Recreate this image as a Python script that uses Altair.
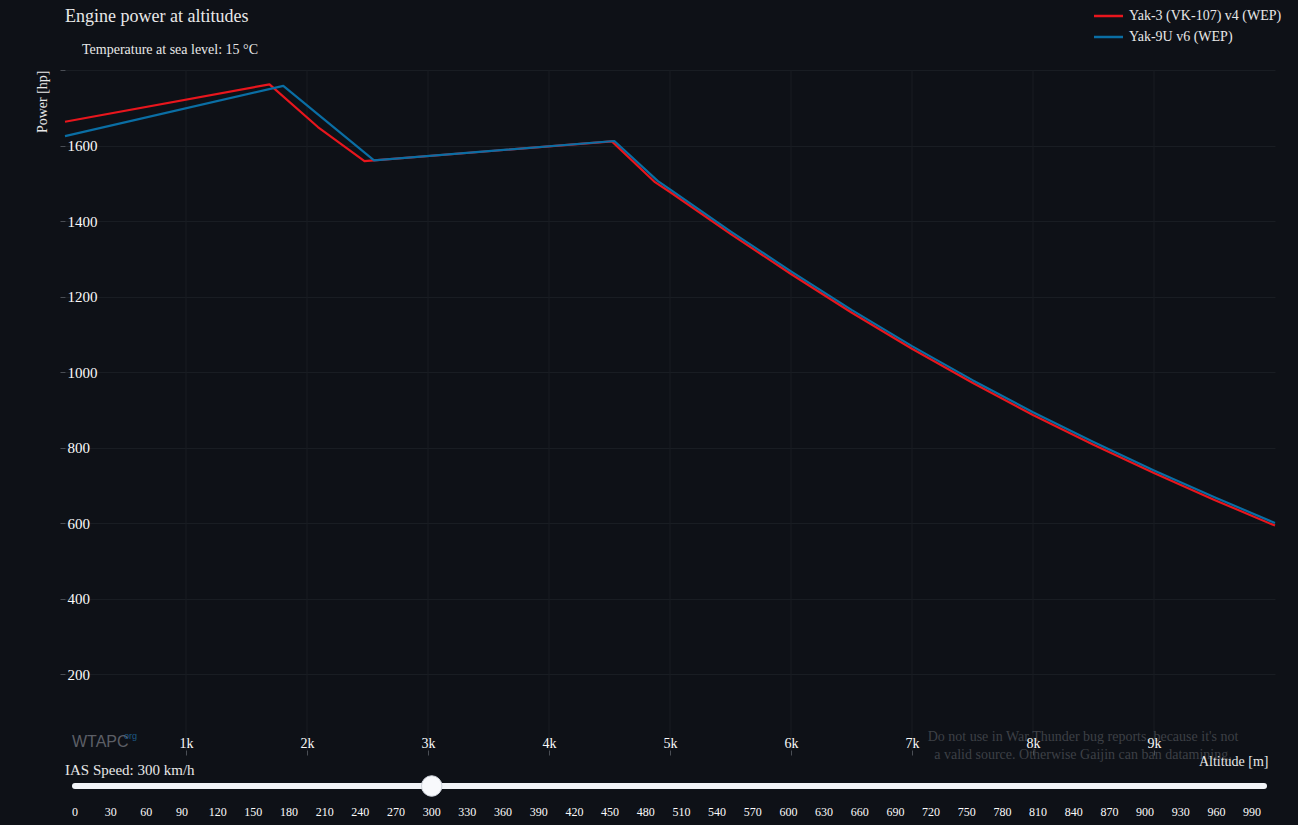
import altair as alt
import pandas as pd
import jinja2

# ---------------- data ----------------
series_names = ["Yak-3 (VK-107) v4 (WEP)", "Yak-9U v6 (WEP)"]
series_colors = ["#e8161d", "#0a6ea4"]

yak3_alt = [0, 1690, 2090, 2475, 4520, 4876, 5000, 5500, 6000, 6500, 7000, 7500, 8000, 8500, 9000, 9500, 10000]
yak3_hp = [1663, 1762, 1649, 1559, 1611, 1503, 1477, 1366, 1260, 1158, 1062, 972, 887, 808, 733, 662, 594]

yak9_alt = [0, 1804, 2554, 4540, 4900, 5000, 5500, 6000, 6500, 7000, 7500, 8000, 8500, 9000, 9500, 10000]
yak9_hp = [1625, 1758, 1561, 1612, 1506, 1484, 1373, 1267, 1165, 1069, 979, 894, 815, 740, 669, 601]

x_ticks = [1000, 2000, 3000, 4000, 5000, 6000, 7000, 8000, 9000]
y_ticks = [200, 400, 600, 800, 1000, 1200, 1400, 1600, 1800]
x_domain = [0, 10000]
y_domain = [0, 1800]

slider_labels = [0, 30, 60, 90, 120, 150, 180, 210, 240, 270, 300, 330, 360, 390, 420, 450, 480,
                 510, 540, 570, 600, 630, 660, 690, 720, 750, 780, 810, 840, 870, 900, 930, 960, 990]
slider_range = [0, 1000]
ias_speed = 300

title_text = "Engine power at altitudes"
subtitle_text = "Temperature at sea level: 15 °C"
watermark_lines = ["Do not use in War Thunder bug reports, because it's not",
                   "a valid source. Otherwise Gaijin can ban datamining."]

# ---------------- style ----------------
FONT = "Liberation Serif"
BG = "#0e1117"
GRID = "#191d23"
TICK = "#4a4e55"
TXT = "#e8e8e8"
W, H = 1210, 680

lines_df = pd.concat([
    pd.DataFrame({"altitude": yak3_alt, "power": yak3_hp, "series": series_names[0]}),
    pd.DataFrame({"altitude": yak9_alt, "power": yak9_hp, "series": series_names[1]}),
], ignore_index=True)

xscale = alt.Scale(domain=x_domain, nice=False, zero=False)
yscale = alt.Scale(domain=y_domain, nice=False)
cscale = alt.Scale(domain=series_names, range=series_colors)

one = pd.DataFrame({"a": [0]})

grid = alt.Chart(pd.DataFrame({"v": x_ticks})).mark_rule(color=GRID, strokeWidth=1).encode(
    x=alt.X("v:Q", scale=xscale, axis=None)
)

lines = alt.Chart(lines_df).mark_line(strokeWidth=2.2, strokeJoin="round").encode(
    x=alt.X("altitude:Q", scale=xscale, axis=alt.Axis(
        values=x_ticks, labelExpr="datum.value / 1000 + 'k'", grid=False, domain=False,
        ticks=True, tickSize=5, tickColor=TICK, labelFont=FONT, labelFontSize=14,
        labelColor="#fafafa", labelBaseline="alphabetic", labelPadding=-8,
        labelFlush=False, labelOverlap=False, zindex=1,
        title="Altitude [m]", titleFont=FONT, titleFontSize=14, titleFontWeight="normal",
        titleColor=TXT, titleX=1203, titleY=15, titleAlign="right", titleBaseline="alphabetic")),
    y=alt.Y("power:Q", scale=yscale, axis=alt.Axis(
        values=y_ticks, format="d", labelExpr="datum.value >= 1800 ? '' : datum.label",
        grid=True, gridColor=GRID, domain=False, tickSize=5, tickColor=TICK,
        labelAlign="left", labelBaseline="middle", labelPadding=-7, labelFont=FONT,
        labelFontSize=15, labelColor="#fafafa", labelFlush=False, labelOverlap=False,
        title="Power [hp]", titleFont=FONT, titleFontSize=14, titleFontWeight="normal",
        titleColor=TXT, titleX=-23, titleY=0, titleAlign="right", titleAngle=270,
        titleBaseline="middle")),
    color=alt.Color("series:N", scale=cscale, legend=None),
)

watermark = alt.Chart(one).mark_text(
    text=watermark_lines, font=FONT, fontSize=14, color="#3d4046", align="center",
    baseline="middle", lineHeight=18
).encode(x=alt.value(1018), y=alt.value(667))

logo1 = alt.Chart(one).mark_text(
    text="WTAPC", font="Liberation Sans", fontSize=16, color="#5c5f66", align="left", baseline="middle"
).encode(x=alt.value(7), y=alt.value(672))
logo2 = alt.Chart(one).mark_text(
    text="org", font="Liberation Sans", fontSize=9, color="#1d5b85", align="left", baseline="middle"
).encode(x=alt.value(59), y=alt.value(666))

title = alt.Chart(one).mark_text(
    text=title_text, font=FONT, fontSize=18, color=TXT, align="left", baseline="alphabetic"
).encode(x=alt.value(0), y=alt.value(-48))
subtitle = alt.Chart(one).mark_text(
    text=subtitle_text, font=FONT, fontSize=14, color=TXT, align="left", baseline="middle"
).encode(x=alt.value(17), y=alt.value(-20))

leg_df = pd.DataFrame({"series": series_names, "row": [0, 1]})
leg_y = alt.Y("row:Q", scale=alt.Scale(domain=[0, 1], range=[-54, -33]), axis=None)
leg_rule = alt.Chart(leg_df).mark_rule(strokeWidth=2.5).encode(
    x=alt.value(1029), x2=alt.value(1058), y=leg_y,
    color=alt.Color("series:N", scale=cscale, legend=None),
)
leg_text = alt.Chart(leg_df).mark_text(
    align="left", baseline="middle", font=FONT, fontSize=14, color=TXT
).encode(x=alt.value(1064), y=leg_y, text="series:N")

sl_scale = alt.Scale(domain=slider_range, range=[10, 1199], nice=False, zero=False)
track = alt.Chart(pd.DataFrame({"s0": [slider_range[0]], "s1": [slider_range[1]]})).mark_rule(
    strokeWidth=6, color="#f2f4f8", strokeCap="round"
).encode(x=alt.X("s0:Q", scale=sl_scale, axis=None), x2="s1:Q", y=alt.value(716))
knob = alt.Chart(pd.DataFrame({"s": [ias_speed]})).mark_circle(
    size=420, fill="#f8f9fc", stroke="#cfd4dc", strokeWidth=1, opacity=1
).encode(x=alt.X("s:Q", scale=sl_scale, axis=None), y=alt.value(716))
sl_labels = alt.Chart(pd.DataFrame({"s": slider_labels})).mark_text(
    font=FONT, fontSize=12, color="#fafafa", baseline="middle", align="center"
).encode(x=alt.X("s:Q", scale=sl_scale, axis=None), y=alt.value(742), text="s:Q")
sl_title = alt.Chart(one).mark_text(
    text=f"IAS Speed: {ias_speed} km/h", font=FONT, fontSize=15, color=TXT,
    align="left", baseline="middle"
).encode(x=alt.value(0), y=alt.value(700))

chart = alt.layer(
    grid, lines, watermark, logo1, logo2, title, subtitle, leg_rule, leg_text,
    track, knob, sl_labels, sl_title
).resolve_scale(x="independent", y="independent").properties(
    width=W, height=H,
    padding={"left": 57, "top": 62, "right": 15, "bottom": 73},
    autosize=alt.AutoSizeParams(type="none"),
    background=BG,
).configure_view(stroke=None)

TEMPLATE = jinja2.Template("""<!DOCTYPE html>
<html>
<head>
  <meta charset="utf-8">
  <style>
    html, body { background: #0e1117; }
    #{{ output_div }}.vega-embed { width: 100%; display: flex; }
    #{{ output_div }}.vega-embed details,
    #{{ output_div }}.vega-embed details summary { position: relative; }
  </style>
  <script type="text/javascript" src="{{ base_url }}/vega@{{ vega_version }}"></script>
  <script type="text/javascript" src="{{ base_url }}/vega-lite@{{ vegalite_version }}"></script>
  <script type="text/javascript" src="{{ base_url }}/vega-embed@{{ vegaembed_version }}"></script>
</head>
<body>
  <div id="{{ output_div }}"></div>
  <script>
    (function(vegaEmbed) {
      var spec = {{ spec }};
      var embedOpt = {{ embed_options }};
      vegaEmbed("#{{ output_div }}", spec, embedOpt).catch(function(err) { console.error(err); });
    })(vegaEmbed);
  </script>
</body>
</html>
""")

try:
    chart.save("out.html", embed_options={"renderer": "svg", "actions": False}, template=TEMPLATE)
except Exception:
    chart.save("out.html", embed_options={"renderer": "svg", "actions": False})
